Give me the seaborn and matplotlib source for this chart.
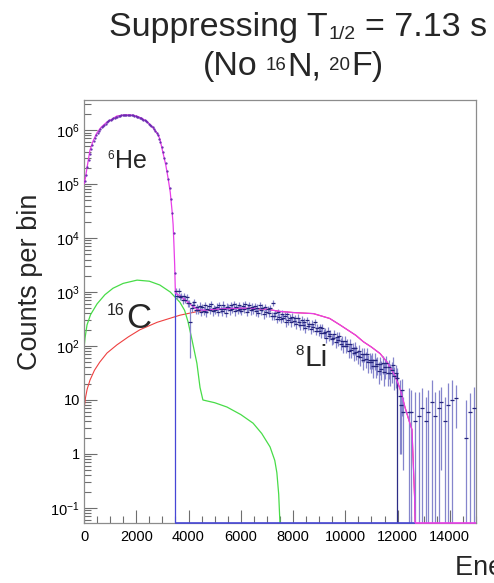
import numpy as np
import matplotlib
matplotlib.use("Agg")
import matplotlib.pyplot as plt
import matplotlib.transforms as mtransforms
import seaborn as sns
from matplotlib.ticker import MultipleLocator, LogLocator, NullFormatter, FixedLocator, FixedFormatter

sns.set_theme(style="white")
plt.rcParams['font.family'] = ['Liberation Sans', 'DejaVu Sans']

# ---------------- data ----------------
bin_width = 50  # keV

# 6He region data, bins 0-3500 keV
he6_counts = [1.12e5, 1.48e5, 2.09e5, 2.82e5, 3.63e5, 4.47e5, 5.37e5, 6.31e5, 7.24e5, 8.13e5,
              8.91e5, 9.77e5, 1.05e6, 1.12e6, 1.20e6, 1.26e6, 1.32e6, 1.38e6, 1.45e6, 1.51e6,
              1.55e6, 1.62e6, 1.66e6, 1.70e6, 1.74e6, 1.78e6, 1.82e6, 1.82e6, 1.86e6, 1.86e6,
              1.91e6, 1.91e6, 1.91e6, 1.91e6, 1.91e6, 1.91e6, 1.86e6, 1.86e6, 1.82e6, 1.82e6,
              1.78e6, 1.74e6, 1.70e6, 1.66e6, 1.62e6, 1.55e6, 1.51e6, 1.45e6, 1.38e6, 1.32e6,
              1.26e6, 1.20e6, 1.12e6, 1.05e6, 9.77e5, 8.91e5, 7.94e5, 6.92e5, 5.89e5, 4.90e5,
              3.98e5, 3.09e5, 2.40e5, 1.78e5, 1.26e5, 8.51e4, 5.37e4, 2.95e4, 1.26e4, 2.24e3]

# 8Li region data, bins 3500-12000 keV
li8_counts = [1050, 858, 1051, 808, 854, 699, 850, 719, 814, 623,
              615, 280, 513, 587, 660, 473, 526, 470, 559, 431,
              519, 446, 573, 421, 490, 549, 461, 598, 436, 505,
              466, 534, 426, 564, 480, 441, 583, 495, 412, 539,
              520, 460, 565, 485, 605, 440, 530, 465, 580, 495,
              445, 555, 480, 590, 430, 515, 570, 455, 535, 475,
              549, 438, 507, 417, 570, 457, 509, 394, 529, 425,
              483, 411, 500, 367, 631, 362, 405, 319, 419, 348,
              320, 399, 335, 367, 278, 393, 302, 336, 274, 347,
              287, 327, 251, 333, 279, 247, 307, 247, 280, 218,
              302, 233, 255, 204, 261, 222, 273, 193, 216, 190,
              222, 171, 217, 172, 181, 142, 193, 154, 164, 134,
              139, 168, 121, 147, 127, 152, 111, 123, 98, 125,
              98, 109, 81, 110, 84, 91, 74, 92, 77, 66,
              82, 62, 71, 54, 71, 58, 71, 50, 56, 50,
              56, 42, 55, 43, 46, 35, 46, 38, 48, 33,
              41, 48, 32, 40, 32, 36, 45, 28, 31, 26]
li8_errors = [117, 105, 117, 102, 105, 95, 105, 97, 103, 90,
              89, 220, 82, 87, 92, 78, 83, 78, 85, 75,
              82, 76, 86, 74, 80, 84, 77, 88, 75, 81,
              78, 83, 74, 85, 79, 76, 87, 80, 73, 84,
              82, 77, 86, 79, 89, 76, 83, 78, 87, 80,
              76, 85, 79, 87, 75, 82, 86, 77, 83, 78,
              84, 75, 81, 74, 86, 77, 81, 71, 83, 74,
              67, 62, 68, 59, 77, 58, 61, 54, 63, 57,
              54, 61, 56, 59, 51, 60, 54, 56, 51, 57,
              52, 55, 48, 56, 51, 48, 54, 48, 51, 45,
              44, 39, 40, 36, 41, 38, 41, 35, 37, 35,
              38, 33, 37, 33, 34, 30, 35, 32, 32, 29,
              29, 33, 28, 31, 29, 31, 27, 28, 25, 28,
              25, 27, 22, 27, 23, 24, 22, 25, 22, 20,
              23, 20, 21, 18, 21, 19, 21, 18, 19, 18,
              19, 16, 19, 17, 17, 15, 17, 15, 18, 15,
              16, 18, 14, 16, 14, 15, 17, 13, 14, 13]

# tail data, bins 12000-15000 keV (0 = empty bin)
tail_counts = [0, 12, 8, 15, 6, 0, 0, 0, 6, 0,
               6, 0, 0, 4, 0, 0, 5, 0, 7, 0,
               0, 4, 0, 6, 0, 0, 9, 0, 5, 0,
               0, 7, 0, 9, 0, 0, 4, 0, 8, 0,
               0, 10, 0, 0, 11, 0, 0, 0, 0, 0,
               0, 0, 2, 0, 0, 6, 0, 0, 7, 0]
tail_errors = [0, 11, 7, 10, 5.5, 0, 0, 0, 11, 0,
               9, 0, 0, 10, 0, 0, 9, 0, 10, 0,
               0, 7.5, 0, 9.5, 0, 0, 14, 0, 9, 0,
               0, 8.5, 0, 8.5, 0, 0, 7.5, 0, 13, 0,
               0, 13, 0, 0, 8, 0, 0, 0, 0, 0,
               0, 0, 8, 0, 0, 7.5, 0, 0, 10.5, 0]

# total fit (magenta)
fit_E = [0, 50, 115, 230, 350, 485, 650, 880, 1100, 1260, 1450, 1650, 1850, 2000, 2200,
         2400, 2600, 2800, 2900, 3036, 3130, 3220, 3300, 3370, 3410, 3440, 3470, 3490, 3500,
         3700, 3900, 4100, 4360, 4600, 5000, 5500, 6000, 6500, 7000, 7500, 8000, 8780, 9400,
         9800, 10050, 10400, 10690, 11000, 11330, 11600, 11900, 12100, 12280, 12450, 12550,
         12590, 12650, 12670]
fit_counts = [1.0e5, 1.26e5, 2.0e5, 4.27e5, 6.31e5, 8.71e5, 1.12e6, 1.41e6, 1.62e6, 1.82e6,
              1.88e6, 1.91e6, 1.88e6, 1.82e6, 1.66e6, 1.45e6, 1.17e6, 8.71e5, 6.92e5, 3.55e5,
              2.24e5, 1.26e5, 7.08e4, 3.16e4, 1.78e4, 7.94e3, 3.16e3, 1.26e3, 955,
              832, 692, 575, 468, 462, 479, 495, 501, 501, 479, 437, 417, 398, 324,
              245, 204, 158, 120, 95.5, 72.4, 50.1, 28.2, 15.8, 7.41, 3.98, 2.82,
              0.89, 0.16, 0.05]

# 8Li component (red)
li8_E = [0, 20, 60, 120, 230, 400, 600, 880, 1260, 1700, 2140, 2800, 3670, 4360, 5000,
         5950, 7000, 7500, 8000, 8780, 9400, 9800, 10050, 10400, 10690, 11000, 11330,
         11600, 11900, 12100, 12280, 12450, 12550, 12590, 12650, 12670]
li8_fit = [5.0, 7.9, 11.2, 15.8, 23.4, 35.5, 50.1, 74.1, 105, 148, 200, 275, 372, 437, 468,
           501, 479, 437, 417, 398, 324, 245, 204, 158, 120, 95.5, 72.4,
           50.1, 28.2, 15.8, 7.41, 3.98, 2.82, 0.89, 0.16, 0.05]

# 16C component (green)
c16_E = [0, 40, 115, 250, 500, 800, 1110, 1500, 2030, 2500, 2900, 3300, 3670, 3850, 3980,
         4130, 4320, 4440, 4550, 5000, 5470, 6000, 6470, 6800, 7120, 7300, 7380, 7450, 7500]
c16_fit = [89.1, 141, 245, 380, 603, 891, 1175, 1445, 1660, 1585, 1349, 1000, 646, 457, 282,
           132, 47.9, 17.0, 10.0, 8.91, 7.41, 5.37, 3.72, 2.40, 1.35, 0.76, 0.45, 0.18, 0.05]

x_ticks = [0, 2000, 4000, 6000, 8000, 10000, 12000, 14000]
y_ticks = [1e-1, 1, 10, 1e2, 1e3, 1e4, 1e5, 1e6]
y_tick_labels = [r'$\mathregular{10^{-1}}$', '1', '10', r'$\mathregular{10^{2}}$',
                 r'$\mathregular{10^{3}}$', r'$\mathregular{10^{4}}$',
                 r'$\mathregular{10^{5}}$', r'$\mathregular{10^{6}}$']

# outline features of the blue data histogram
edge_6he = 3500
edge_6he_top = 1000
edge_li8 = 11975
edge_li8_top = 32
fit_end = 12670

# ---------------- styling ----------------
MAGENTA = '#e83ee8'
RED = '#ee4040'
GREEN = '#48dc48'
BLUE = '#4646d6'
BAR = '#8585cc'
MARK = '#24247c'
YMIN, YMAX = 0.0527, 3.6e6

W, H = 494, 583
fig = plt.figure(figsize=(W / 100, H / 100), dpi=100)
ax = fig.add_axes([84 / W, (H - 523) / H, (476 - 84) / W, (523 - 100) / H])
ax.set_yscale('log')

# components
sns.lineplot(x=li8_E, y=li8_fit, ax=ax, color=RED, lw=0.8, estimator=None, sort=False, zorder=2)
sns.lineplot(x=c16_E, y=c16_fit, ax=ax, color=GREEN, lw=0.9, estimator=None, sort=False, zorder=2)

# data
he6_centers = np.arange(len(he6_counts)) * bin_width + bin_width / 2
li8_centers = 3500 + np.arange(len(li8_counts)) * bin_width + bin_width / 2
tail_centers = 12000 + np.arange(len(tail_counts)) * bin_width + bin_width / 2

y_li = np.array(li8_counts, float)
e_li = np.array(li8_errors, float)
ax.vlines(li8_centers, np.maximum(y_li - e_li, 1e-3), y_li + e_li, color=BAR, lw=0.9, zorder=3)

y_t = np.array(tail_counts, float)
e_t = np.array(tail_errors, float)
m = y_t > 0
ax.vlines(tail_centers[m], np.maximum(y_t[m] - e_t[m], 1e-3), y_t[m] + e_t[m], color=BAR, lw=0.9, zorder=3)

# outline lines of the data histogram
ax.vlines([edge_6he], YMIN, edge_6he_top, color=BLUE, lw=0.9, zorder=4)
ax.vlines([edge_li8], YMIN, edge_li8_top, color='#2c2c86', lw=0.9, zorder=4)
ax.hlines([YMIN * 1.015], edge_6he, fit_end, color=BLUE, lw=1.2, zorder=4, clip_on=False)
ax.hlines([YMIN * 1.015], fit_end, 15000, color=MAGENTA, lw=1.2, zorder=4, clip_on=False)

# total fit
sns.lineplot(x=fit_E, y=fit_counts, ax=ax, color=MAGENTA, lw=0.9, estimator=None, sort=False, zorder=5)

# markers
ax.plot(he6_centers, he6_counts, ls='none', marker='.', ms=1.3, color='#6a2ab0', zorder=6)
ax.plot(li8_centers, y_li, ls='none', marker='_', ms=3, mew=0.9, color=MARK, zorder=6)
ax.plot(tail_centers[m], y_t[m], ls='none', marker='_', ms=3, mew=0.9, color=MARK, zorder=6)

ax.set_xlim(0, 15000)
ax.set_ylim(YMIN, YMAX)
ax.set_xlabel('')
ax.set_ylabel('')

ax.xaxis.set_major_locator(FixedLocator(x_ticks))
ax.xaxis.set_minor_locator(MultipleLocator(500))
ax.set_xticklabels([str(v) for v in x_ticks])
ax.yaxis.set_major_locator(FixedLocator(y_ticks))
ax.yaxis.set_major_formatter(FixedFormatter(y_tick_labels))
ax.yaxis.set_minor_locator(LogLocator(base=10, subs=np.arange(2, 10), numticks=30))
ax.yaxis.set_minor_formatter(NullFormatter())

ax.tick_params(which='both', direction='in', top=False, right=False, color='#6e6e6e', width=0.8,
               labelcolor='black', labelsize=10.5)
ax.tick_params(which='major', length=9.5)
ax.tick_params(which='minor', length=5)
ax.tick_params(axis='x', which='both', bottom=True, pad=5)
ax.tick_params(axis='y', which='both', left=True, pad=3)
for s in ax.spines.values():
    s.set_color('#8c8c8c')
    s.set_linewidth(0.9)

# ---------------- texts (pixel positions, origin top-left) ----------------
ident = mtransforms.IdentityTransform()
renderer = fig.canvas.get_renderer()


def rich(x, y_base, pieces, center=True):
    """pieces: (text, fontsize, dy_pixels_up, gap_after_pixels)"""
    items = []
    total = 0.0
    for s, size, dy, gap in pieces:
        t = fig.text(0, 0, s, fontsize=size, ha='left', va='baseline', transform=ident)
        w = t.get_window_extent(renderer).width
        items.append((t, w, dy, gap))
        total += w + gap
    total -= pieces[-1][3]
    cur = x - total / 2 if center else x
    for t, w, dy, gap in items:
        t.set_position((cur, H - y_base + dy))
        cur += w + gap


rich(298, 36, [('Suppressing T', 24.5, 0, 1), ('1/2', 14, -3, 9), ('= 7.13 s', 24.5, 0, 0)])
rich(293, 75, [('(No', 24.5, 0, 8), ('16', 13.5, 5, 1), ('N,', 24.5, 0, 8),
               ('20', 13.5, 5, 1), ('F)', 24.5, 0, 0)])

rich(107, 168, [('6', 8.5, 9, 1), ('He', 18, 0, 0)], center=False)
rich(107, 328, [('16', 11.5, 13, 1), ('C', 25, 0, 0)], center=False)
rich(295, 366, [('8', 11, 11, 1), ('Li', 21.5, 0, 0)], center=False)

fig.text(30, H - 282, 'Counts per bin', fontsize=19.5, rotation=90, ha='center', va='center',
         transform=ident)
fig.text(455, H - 575, 'Energy (keV)', fontsize=19.5, ha='left', va='baseline', transform=ident)

fig.savefig('out.png', dpi=100)
